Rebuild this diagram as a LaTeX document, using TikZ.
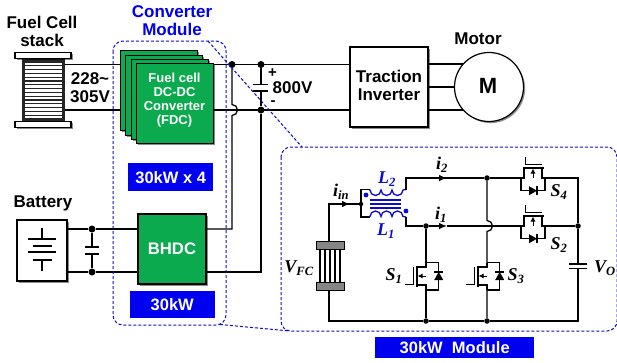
\documentclass[tikz,border=0pt]{standalone}
\usepackage{fontspec}
\setmainfont{Liberation Sans}
\newfontfamily\serifit{Liberation Serif}
\usetikzlibrary{shadows,arrows.meta}
\definecolor{fdcgreen}{HTML}{0BAA4E}
\definecolor{modblue}{HTML}{0000F0}
\definecolor{dashblue}{HTML}{0A0AD0}
\definecolor{stripe}{HTML}{858585}
\tikzset{
  wire/.style={line width=1.25pt,black},
  shad/.style={drop shadow={shadow xshift=1.6pt,shadow yshift=-1.6pt,opacity=.45,fill=black}},
  dotn/.style={circle,fill=black,inner sep=0pt,minimum size=#1},
  dotn/.default=7pt,
  greenbox/.style={draw=black,line width=1.2pt,fill=fdcgreen,text=white,shad,inner sep=0pt,align=center,font=\bfseries},
  whitebox/.style={draw=black,line width=1.2pt,fill=white,shad,inner sep=0pt,align=center},
  bluetag/.style={fill=modblue,text=white,inner sep=0pt,align=center,font=\bfseries\fontsize{16.5}{18}\selectfont},
  lab/.style={inner sep=0pt,align=center,font=\bfseries\fontsize{17}{18}\selectfont},
  labone/.style={inner sep=0pt,font=\bfseries\fontsize{17}{17}\selectfont},
  sign/.style={inner sep=0pt,font=\bfseries\fontsize{15}{15}\selectfont},
  ital/.style={inner sep=0pt,font=\serifit\bfseries\itshape\fontsize{18}{18}\selectfont},
  dashb/.style={draw=dashblue,line width=1pt,dash pattern=on 3pt off 2pt},
  larr/.style={-{Latex[length=8pt,width=6.5pt]}},
  vmos/.pic={
    \draw[wire] (0,-13.3)--(0,-9)--(-9,-9);
    \draw[wire] (0,14)--(0,9)--(-9,9);
    \draw[line width=1.8pt] (-9,-10.5)--(-9,10.5);
    \draw[wire] (-12.5,-9.5)--(-12.5,8.5)--(-21,8.5);
    \draw[line width=1pt,-{Latex[length=5pt,width=5pt]}] (0,0)--(-8.5,0);
    \draw[wire] (0,-13.3)--(12.7,-13.3)--(12.7,14)--(0,14);
    \fill (12.7,-4)--(8.2,4)--(17.2,4)--cycle;
    \draw[wire] (8.2,-4)--(17.2,-4);
  },
  hmos/.pic={
    \draw[wire] (-12,0)--(-9,0)--(-9,-10);
    \draw[wire] (12,0)--(9,0)--(9,-10);
    \draw[line width=1.8pt] (-10.5,-10)--(10.5,-10);
    \draw[wire] (-7.5,-20.6)--(-7.5,-13.5)--(8.5,-13.5);
    \draw[line width=1pt,-{Latex[length=5pt,width=5pt]}] (0,0)--(0,-9.5);
    \draw[wire] (-12,0)--(-12,12.7)--(12,12.7)--(12,0);
    \fill (4,12.7)--(-4,8.2)--(-4,17.2)--cycle;
    \draw[wire] (4,8.2)--(4,17.2);
  },
}
\begin{document}
\begin{tikzpicture}[x=1pt,y=-1pt]
\useasboundingbox (0,0) rectangle (617,362);
\clip (0,0) rectangle (617,362);
% top labels
\node[lab] (fcstack) at (42,31.5) {Fuel Cell\\stack};
\node[lab,text=modblue] (convmod) at (172,21) {Converter\\Module};
% junction and wire anchors
\coordinate (stackT) at (65,64.5);
\coordinate (stackB) at (65,110);
\node[dotn] (jA) at (232,64.5) {};
\node[dotn] (jB) at (261,64.5) {};
\node[dotn] (jC) at (261,110) {};
% inverter and motor
\node[whitebox,minimum width=78pt,minimum height=80pt] (inv) at (389,87) {};
\node[lab] (invt) at (389,85.5) {Traction\\Inverter};
\draw[wire] (stackT)--(inv.west|-stackT);
\draw[wire] (stackB)--(inv.west|-stackB);
\foreach \yy in {64,87,110}{\draw[wire] (428,\yy)--(470,\yy);}
\node[whitebox,circle,minimum size=69pt] (motor) at (489,87) {};
\node[inner sep=0pt,font=\bfseries\fontsize{22}{22}\selectfont] (mm) at (488,85.5) {M};
\node[lab] (mot) at (478,39) {Motor};
% fuel cell stack
\fill[black!85] (22,59) rectangle (65,121);
\foreach \yy in {62.5,66.3,...,118}{\fill[white] (25,\yy) rectangle (62,\yy+2.7);}
\node[whitebox,minimum width=56pt,minimum height=6.5pt] (ptop) at (43,55.5) {};
\node[whitebox,minimum width=56pt,minimum height=6.5pt] (pbot) at (43,124.5) {};
\node[lab] (vfc) at (90,87.5) {228\textasciitilde\\305V};
% green stack
\foreach \xx/\yy in {119.5/50,125/54.5,130.5/58.5}{
  \node[greenbox,minimum width=77pt,minimum height=80pt,anchor=north west] at (\xx,\yy) {};
}
\node[greenbox,minimum width=77pt,minimum height=80pt,anchor=north west] (fdc) at (136,63) {};
\node[inner sep=0pt,align=center,text=white,font=\bfseries\fontsize{13}{13.9}\selectfont] (fdct) at (174.5,100) {Fuel cell\\DC-DC\\Converter\\(FDC)};
\node[bluetag,minimum width=85pt,minimum height=28pt,anchor=north west] (t1) at (128,163) {30kW x 4};
% 800V cap
\draw[wire] (jB)--(261,84.5) (261,91)--(jC);
\draw[line width=1.5pt] (253,84.5)--(268,84.5) (253,91)--(268,91);
\node[sign] (plus) at (272.5,73) {+};
\node[labone] (v800) at (292.5,88) {800V};
\node[sign] (minus) at (273,103) {-};
% battery
\node[lab] (batl) at (43,203) {Battery};
\node[whitebox,minimum width=50pt,minimum height=61pt] (bat) at (42,250.5) {};
\draw[wire] (42,228)--(42,239) (28,239)--(56,239) (33,246)--(52,246) (28,252)--(56,252) (33,260)--(52,260) (42,260)--(42,271);
\node[greenbox,minimum width=68pt,minimum height=70pt,font=\bfseries\fontsize{16.7}{17}\selectfont] (bhdc) at (172,249) {BHDC};
\node[dotn] (jD) at (92,229) {};
\node[dotn] (jE) at (92,272) {};
\draw[wire] (bat.east|-jD)--(jD)--(bhdc.west|-jD);
\draw[wire] (bat.east|-jE)--(jE)--(bhdc.west|-jE);
\draw[wire] (jD)--(92,247) (92,254)--(jE);
\draw[line width=1.4pt] (85,247)--(99,247) (85,254)--(99,254);
\node[bluetag,minimum width=85pt,minimum height=27pt,anchor=north west] (t2) at (129.5,291) {30kW};
% DC bus drops
\draw[wire] (jA)--(232,104.5) arc[start angle=-90,end angle=90,radius=5.5] --(232,229)--(bhdc.east|-jD);
\draw[wire] (jC)--(261,272)--(bhdc.east|-jE);
% module dashes
\draw[dashb,rounded corners=10pt] (113,41) rectangle (226,325);
\draw[dashb] (208,41)--(302,147);
\draw[dashb] (220,324.5)--(290,331);
\draw[dashb,rounded corners=10pt] (281,147) rectangle (617,331);
% --- circuit ---
\foreach \xx in {320,325,330,335,340}{\draw[line width=1.2pt] (\xx,248)--(\xx,283);}
\node[draw=black,fill=stripe,line width=.8pt,minimum width=28pt,minimum height=8pt,inner sep=0] (ft) at (330.5,245) {};
\node[draw=black,fill=stripe,line width=.8pt,minimum width=28pt,minimum height=8pt,inner sep=0] (fb) at (330.5,286) {};
\node[dotn=4.5pt] (jin) at (361,204) {};
\node[dotn=5.5pt] (j1) at (426,226) {};
\node[dotn=5.5pt] (j2) at (487,178) {};
\node[dotn=5.5pt] (j3) at (578,226) {};
\node[dotn=5.5pt] (j4) at (426,321) {};
\node[dotn=5.5pt] (j5) at (487,321) {};
\draw[wire] (ft.north-|329,0)--(329,204)--(jin);
\draw[wire,larr] (329,204)--(350,204);
\draw[wire] (fb.south-|329,0)--(329,321)--(j4)--(j5)--(578,321)--(578,268.5);
\draw[wire] (370,189.5)--(361,189.5)--(361,217)--(370,217);
% coupled inductor
\draw[draw=dashblue,line width=1.3pt] (369,190)--(370,190) arc[start angle=180,end angle=0,radius=5.5]
  arc[start angle=180,end angle=0,radius=5.5] arc[start angle=180,end angle=0,radius=5.5] --(406,189.5);
\draw[draw=dashblue,line width=1.3pt] (369,216.5)--(370,216.5) arc[start angle=180,end angle=360,radius=5.5]
  arc[start angle=180,end angle=360,radius=5.5] arc[start angle=180,end angle=360,radius=5.5] --(406,217);
\draw[dashblue,line width=1.1pt] (370,200)--(401,200) (370,204)--(401,204) (370,208)--(401,208);
\fill[dashblue] (366,195) circle (2.4pt) (406,211) circle (2.4pt);
\draw[wire] (406,189.5)--(406,178)--(j2);
\draw[wire] (406,217)--(406,226)--(j1);
\draw[wire,larr] (406,178)--(447,178);
\draw[wire,larr] (j1)--(447,226);
\draw[wire] (447,226)--(521,226);
\draw[wire] (j2)--(521,178);
\draw[wire] (545,178)--(578,178)--(j3)--(578,264);
\draw[wire] (545,226)--(j3);
\draw[line width=1.5pt] (569,264)--(587,264) (569,268.5)--(587,268.5);
\draw[wire] (j1)--(426,263) (426,290)--(j4);
\draw[wire] (j2)--(487,220.5) arc[start angle=-90,end angle=90,radius=5.5] --(487,263) (487,290)--(j5);
\pic at (426,276) {vmos};
\pic at (487,276) {vmos};
\pic at (533,178) {hmos};
\pic at (533,226) {hmos};
% circuit labels
\node[ital,text=dashblue] (l2) at (387,179) {L\textsubscript{2}};
\node[ital,text=dashblue] (l1) at (386,231) {L\textsubscript{1}};
\node[ital] (iin) at (341,192) {i\textsubscript{in}};
\node[ital] (i2) at (442,165) {i\textsubscript{2}};
\node[ital] (i1) at (441,215) {i\textsubscript{1}};
\node[ital] (s4) at (559,192) {S\textsubscript{4}};
\node[ital] (s2) at (559,245) {S\textsubscript{2}};
\node[ital] (s1) at (394,276) {S\textsubscript{1}};
\node[ital] (s3) at (516,276) {S\textsubscript{3}};
\node[ital] (vf) at (299,268) {V\textsubscript{FC}};
\node[ital] (vo) at (605,268) {V\textsubscript{O}};
\node[bluetag,minimum width=159pt,minimum height=21pt,anchor=north west] (t3) at (375,337) {30kW\ \ Module};
\end{tikzpicture}
\end{document}
